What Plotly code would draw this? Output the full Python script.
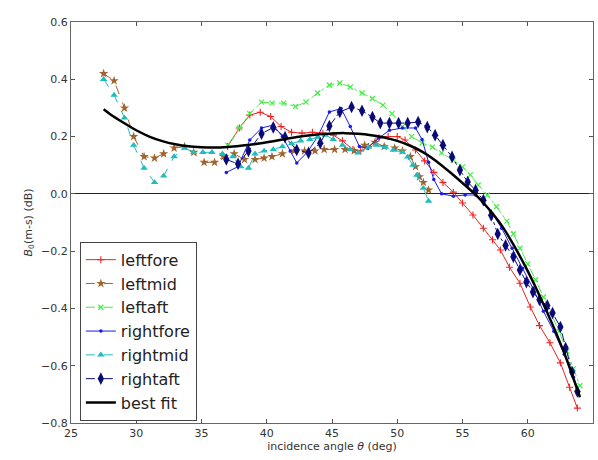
import plotly.graph_objects as go

# ---- data ----
leftfore_x = [37.0, 37.9, 38.7, 39.5, 40.3, 41.1, 41.9, 42.7, 43.5, 44.3, 45.1, 45.8, 46.6, 47.2, 47.8,
              48.6, 49.3, 50.0, 50.6, 51.4, 52.1, 52.8, 53.5, 54.3, 55.0, 55.8, 56.6, 57.3, 57.9, 58.6,
              59.4, 60.2, 60.9, 61.7, 62.5, 63.2, 63.8]
leftfore_y = [0.165, 0.23, 0.275, 0.285, 0.27, 0.235, 0.215, 0.212, 0.215, 0.212, 0.205, 0.185, 0.155, 0.15, 0.165,
              0.195, 0.2, 0.2, 0.188, 0.153, 0.115, 0.075, 0.04, 0.006, -0.032, -0.074, -0.12, -0.16, -0.196, -0.256,
              -0.312, -0.395, -0.46, -0.52, -0.59, -0.675, -0.748]

leftmid_x = [27.5, 28.3, 29.1, 29.8, 30.6, 31.4, 32.1, 32.9, 33.7, 34.4, 35.2, 36.0, 36.7, 37.5, 38.3,
             39.1, 39.8, 40.4, 41.2, 42.1, 42.9, 43.7, 44.4, 45.2, 46.0, 46.7, 47.5, 48.3, 49.0, 49.8,
             50.4, 51.0, 51.4, 51.7, 52.0, 52.4]
leftmid_y = [0.42, 0.395, 0.30, 0.20, 0.13, 0.125, 0.14, 0.16, 0.165, 0.145, 0.11, 0.11, 0.13, 0.14, 0.12,
             0.12, 0.125, 0.13, 0.14, 0.15, 0.15, 0.15, 0.155, 0.155, 0.155, 0.15, 0.17, 0.18, 0.165, 0.16,
             0.15, 0.13, 0.095, 0.06, 0.04, 0.013]

leftaft_x = [37.0, 37.9, 38.7, 39.6, 40.4, 41.3, 42.2, 43.0, 43.9, 44.8, 45.6, 46.4, 47.3, 48.1, 48.9,
             49.6, 50.4, 51.1, 51.9, 52.7, 53.4, 54.3, 55.0, 55.6, 56.2, 56.9, 57.6, 58.4, 58.9, 59.4,
             60.0, 60.6, 61.2, 61.8, 62.4, 63.0, 63.5, 64.0]
leftaft_y = [0.17, 0.23, 0.28, 0.32, 0.317, 0.317, 0.305, 0.32, 0.352, 0.38, 0.387, 0.373, 0.352, 0.333, 0.31,
             0.28, 0.235, 0.2, 0.178, 0.163, 0.143, 0.118, 0.094, 0.066, 0.031, -0.004, -0.045, -0.095, -0.14, -0.19,
             -0.245, -0.30, -0.36, -0.42, -0.48, -0.55, -0.61, -0.67]

rightfore_x = [36.9, 37.8, 38.7, 39.6, 40.5, 41.2, 41.8, 42.3, 43.1, 43.9, 44.8, 45.7, 46.4, 47.1, 47.7,
               48.6, 49.4, 50.4, 51.4, 51.9, 52.4, 52.8, 53.4, 54.3, 55.2, 56.0, 56.6, 57.3, 58.0, 58.8,
               59.6, 60.4, 61.2, 62.0, 62.8, 63.5, 63.9]
rightfore_y = [0.075, 0.095, 0.188, 0.23, 0.24, 0.2, 0.15, 0.108, 0.145, 0.2, 0.286, 0.298, 0.235, 0.165, 0.16,
               0.195, 0.222, 0.23, 0.23, 0.19, 0.11, 0.05, 0.0, -0.008, -0.004, -0.004, -0.03, -0.07, -0.12, -0.19,
               -0.26, -0.33, -0.41, -0.48, -0.56, -0.64, -0.69]

rightmid_x = [27.5, 28.3, 29.1, 29.8, 30.6, 31.4, 32.1, 32.9, 33.7, 34.4, 35.1, 35.8, 36.6, 37.4, 38.0,
              38.6, 39.1, 39.8, 40.5, 41.2, 41.9, 42.6, 43.3, 43.9, 44.5, 45.1, 45.8, 46.4, 47.0, 47.8,
              48.4, 49.1, 49.7, 50.4, 50.8, 51.2, 51.5, 52.0, 52.4]
rightmid_y = [0.40, 0.345, 0.265, 0.17, 0.09, 0.04, 0.063, 0.13, 0.16, 0.145, 0.145, 0.145, 0.14, 0.13, 0.095,
              0.09, 0.14, 0.15, 0.155, 0.165, 0.175, 0.185, 0.19, 0.198, 0.205, 0.19, 0.17, 0.155, 0.143, 0.163,
              0.17, 0.163, 0.153, 0.146, 0.129, 0.10, 0.065, 0.02, -0.025]

rightaft_x = [36.9, 37.8, 38.6, 39.6, 40.5, 41.4, 42.3, 43.2, 44.1, 44.8, 45.6, 46.5, 47.3, 48.1, 48.7,
              49.4, 50.1, 50.8, 51.6, 52.3, 52.9, 53.5, 54.2, 54.8, 55.4, 56.0, 56.6, 57.2, 57.7, 58.3,
              58.9, 59.4, 59.9, 60.4, 60.9, 61.5, 61.9, 62.5, 62.9, 63.4, 63.8]
rightaft_y = [0.12, 0.105, 0.15, 0.21, 0.232, 0.198, 0.153, 0.143, 0.177, 0.237, 0.286, 0.303, 0.29, 0.268, 0.247,
              0.247, 0.247, 0.247, 0.251, 0.233, 0.205, 0.17, 0.129, 0.083, 0.041, 0.013, -0.022, -0.075, -0.14, -0.18,
              -0.22, -0.266, -0.308, -0.343, -0.37, -0.39, -0.416, -0.465, -0.538, -0.622, -0.69]

bestfit_x = [27.5, 28, 29, 30, 31, 32, 33, 34, 35, 36, 37, 38, 39, 40, 41, 42, 43, 44, 45, 46, 47, 48, 49,
             50, 51, 52, 53, 54, 55, 56, 57, 58, 59, 60, 61, 62, 63, 64]
bestfit_y = [0.295, 0.278, 0.249, 0.222, 0.2, 0.184, 0.173, 0.166, 0.163, 0.162, 0.164, 0.168, 0.173, 0.18,
             0.188, 0.196, 0.203, 0.208, 0.211, 0.212, 0.21, 0.205, 0.197, 0.185, 0.168, 0.145, 0.114, 0.077,
             0.038, -0.003, -0.052, -0.11, -0.185, -0.27, -0.365, -0.467, -0.58, -0.71]

x_ticks = [25, 30, 35, 40, 45, 50, 55, 60, 65]
y_ticks = [-0.8, -0.6, -0.4, -0.2, 0.0, 0.2, 0.4, 0.6]
y_tick_text = ["\u22120.8", "\u22120.6", "\u22120.4", "\u22120.2", "0.0", "0.2", "0.4", "0.6"]

series = [
    ("leftfore", leftfore_x, leftfore_y, "#ee2222", "solid", dict(symbol="cross-thin", size=5, line=dict(width=1.1, color="#ee2222"))),
    ("leftmid", leftmid_x, leftmid_y, "#a0632d", "dash", dict(symbol="star", size=7)),
    ("leftaft", leftaft_x, leftaft_y, "#44ee44", "dashdot", dict(symbol="x-thin", size=5, line=dict(width=1.2, color="#44ee44"))),
    ("rightfore", rightfore_x, rightfore_y, "#1a1aee", "solid", dict(symbol="circle", size=3.5)),
    ("rightmid", rightmid_x, rightmid_y, "#1fbcbc", "dash", dict(symbol="triangle-up", size=6.5)),
    ("rightaft", rightaft_x, rightaft_y, "#0a0a78", "dashdot", dict(symbol="diamond-tall", size=9)),
]

fig = go.Figure()
for name, xs, ys, col, dash, mk in series:
    m = dict(color=col)
    m.update(mk)
    fig.add_trace(go.Scatter(x=xs, y=ys, name=name, mode="lines+markers",
                             line=dict(color=col, width=1.0, dash=dash), marker=m))
fig.add_trace(go.Scatter(x=bestfit_x, y=bestfit_y, name="best fit", mode="lines",
                         line=dict(color="black", width=2.5, shape="spline", smoothing=0.6)))

axis_common = dict(showgrid=False, ticks="inside", ticklen=4, tickcolor="#555",
                   showline=True, linecolor="#666", linewidth=1, mirror="ticks",
                   tickfont=dict(family="DejaVu Sans", size=11, color="#333"))
fig.update_xaxes(range=[25, 65], tickvals=x_ticks, zeroline=False,
                 title=dict(text="incidence angle <i>θ</i> (deg)", standoff=2,
                            font=dict(family="DejaVu Sans", size=11, color="#333")),
                 **axis_common)
fig.update_yaxes(range=[-0.8, 0.6], tickvals=y_ticks, ticktext=y_tick_text,
                 zeroline=True, zerolinecolor="#222", zerolinewidth=1,
                 title=dict(text="<i>B</i><sub>0</sub>(m-s) (dB)", standoff=6,
                            font=dict(family="DejaVu Sans", size=11, color="#333")),
                 **axis_common)

fig.update_layout(
    width=598, height=460,
    margin=dict(l=71, r=5, t=22, b=37),
    paper_bgcolor="white", plot_bgcolor="white",
    font=dict(family="DejaVu Sans", color="#222"),
    legend=dict(x=0.017, y=0.452, xanchor="left", yanchor="top",
                bgcolor="white", bordercolor="#444", borderwidth=1,
                font=dict(family="DejaVu Sans", size=16, color="#222"),
                tracegroupgap=0, itemwidth=30),
)

fig.write_html("out.html")
